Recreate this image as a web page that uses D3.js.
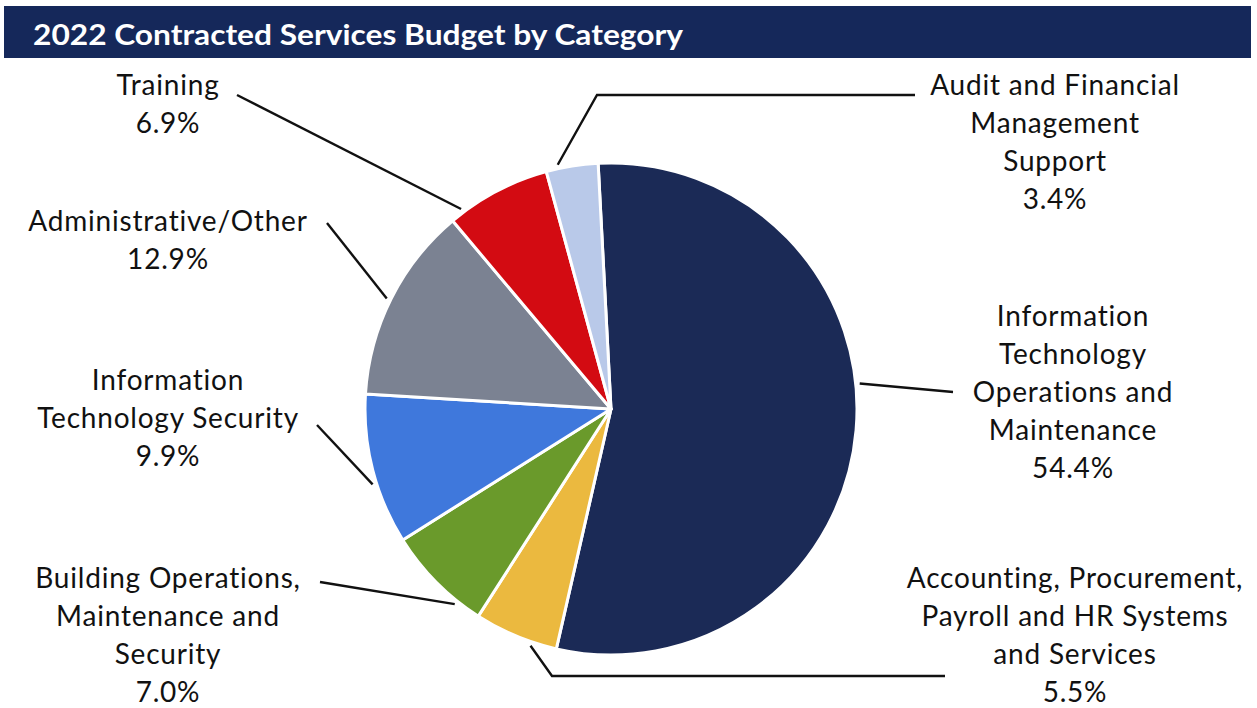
<!DOCTYPE html>
<html lang="en">
<head>
  <meta charset="UTF-8">
  <title>2022 Contracted Services Budget by Category</title>
  <script src="https://d3js.org/d3.v7.min.js"></script>
  <style>
    body { margin: 0; background: #fff; }
    .label { font-family: Lato, "Open Sans", sans-serif; font-size: 28px; letter-spacing: 0.8px; fill: #111; }
    .leader { stroke: #111; stroke-width: 2.4; fill: none; }
  </style>
</head>
<body>
  <svg id="chart" width="1257" height="708"></svg>

  <script>
    // data, clockwise from the top
    const categories = [
      "Information Technology Operations and Maintenance",
      "Accounting, Procurement, Payroll and HR Systems and Services",
      "Building Operations, Maintenance and Security",
      "Information Technology Security",
      "Administrative/Other",
      "Training",
      "Audit and Financial Management Support"
    ];
    const shares = [54.4, 5.5, 7.0, 9.9, 12.9, 6.9, 3.4];
    const labelLines = [
      ["Information", "Technology", "Operations and", "Maintenance"],
      ["Accounting, Procurement,", "Payroll and HR Systems", "and Services"],
      ["Building Operations,", "Maintenance and", "Security"],
      ["Information", "Technology Security"],
      ["Administrative/Other"],
      ["Training"],
      ["Audit and Financial", "Management", "Support"]
    ];
    const colors = ["#1b2a56", "#ebb93f", "#6a9a2b", "#3f78dc", "#7b8292", "#d30b12", "#b9c9e9"];

    // layout for the labels and leaders (not data)
    const labelPos = [
      { x: 1073, y: 326, t: 0.445, path: [[953, 392]] },
      { x: 1075, y: 588, t: 0.30, path: [[552, 676], [945, 676]] },
      { x: 168, y: 588, t: 0.24, path: [[320, 582]] },
      { x: 168, y: 390, t: 0.41, path: [[317, 425]] },
      { x: 168, y: 231, t: 0.49, path: [[327, 223]] },
      { x: 168, y: 95, t: 0.13, path: [[237, 95]] },
      { x: 1055, y: 95, t: 0.24, path: [[597, 95], [915, 95]] }
    ];

    const svg = d3.select("#chart");
    const width = +svg.attr("width");

    // title bar
    svg.append("rect")
      .attr("x", 4).attr("y", 6)
      .attr("width", width - 10).attr("height", 52)
      .attr("fill", "#15285a");
    svg.append("text")
      .attr("x", 33).attr("y", 45)
      .attr("fill", "#fff")
      .attr("font-family", "Lato, 'Open Sans', sans-serif")
      .attr("font-weight", "bold")
      .attr("font-size", "29px")
      .attr("textLength", 650)
      .attr("lengthAdjust", "spacingAndGlyphs")
      .text("2022 Contracted Services Budget by Category");

    const cx = 611, cy = 409, radius = 246;
    const g = svg.append("g").attr("transform", `translate(${cx},${cy})`);

    const data = categories.map((c, i) => ({ name: c, value: shares[i], i: i }));
    const pie = d3.pie().value(d => d.value).sort(null)
      .startAngle(-3 * Math.PI / 180)
      .endAngle(2 * Math.PI - 3 * Math.PI / 180);
    const arcs = pie(data);
    const arc = d3.arc().innerRadius(0).outerRadius(radius);

    g.selectAll("path.slice").data(arcs)
      .join("path").attr("class", "slice")
      .attr("d", arc)
      .attr("fill", (d, i) => colors[i])
      .attr("stroke", "#fff")
      .attr("stroke-width", 3)
      .attr("stroke-linejoin", "round");

    // leader lines: start on the rim of each slice, end at the label
    const line = d3.line();
    arcs.forEach((a, i) => {
      const lp = labelPos[i];
      const ang = a.startAngle + lp.t * (a.endAngle - a.startAngle);
      const r = radius + 4;
      const start = [cx + r * Math.sin(ang), cy - r * Math.cos(ang)];
      svg.append("path").attr("class", "leader")
        .attr("d", line([start].concat(lp.path)));
    });

    // labels
    arcs.forEach((a, i) => {
      const lp = labelPos[i];
      const lines = labelLines[i].concat([d3.format(".1f")(a.data.value) + "%"]);
      const t = svg.append("text").attr("class", "label")
        .attr("text-anchor", "middle");
      lines.forEach((s, k) => {
        t.append("tspan").attr("x", lp.x).attr("y", lp.y + k * 38).text(s);
      });
    });
  </script>
</body>
</html>
